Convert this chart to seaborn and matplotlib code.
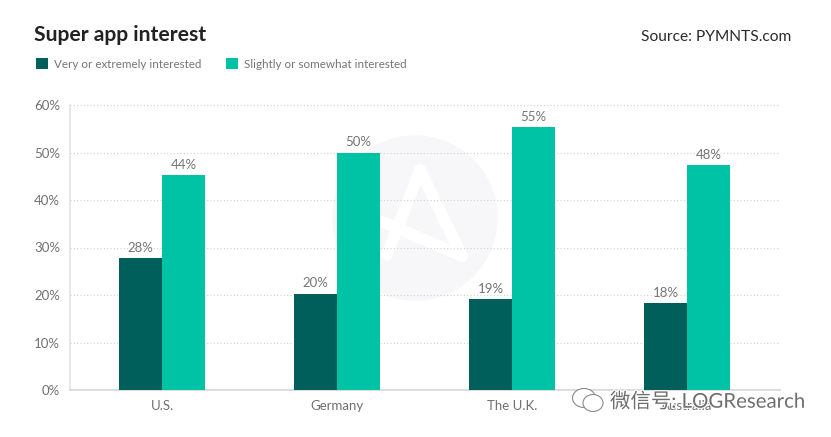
import pandas as pd
import matplotlib.pyplot as plt
import seaborn as sns
from matplotlib.patches import Circle, Ellipse
from matplotlib.lines import Line2D
from matplotlib.transforms import Affine2D
import matplotlib.patheffects as pe

countries = ['U.S.', 'Germany', 'The U.K.', 'Australia']
very_interested = [27.8, 20.3, 19.2, 18.3]
slightly_interested = [45.3, 50.0, 55.3, 47.4]
very_labels = ['28%', '20%', '19%', '18%']
slightly_labels = ['44%', '50%', '55%', '48%']
series_names = ['Very or extremely interested', 'Slightly or somewhat interested']
y_ticks = [0, 10, 20, 30, 40, 50, 60]

sns.set_theme(style='white')
plt.rcParams['font.family'] = ['Lato', 'Noto Sans CJK SC', 'DejaVu Sans']

df = pd.DataFrame({
    'Country': countries * 2,
    'Series': [series_names[0]] * 4 + [series_names[1]] * 4,
    'Share': very_interested + slightly_interested,
})

fig = plt.figure(figsize=(8.31, 4.37), dpi=100)
ax = fig.add_axes([70 / 831, (437 - 390) / 437, 710 / 831, 285 / 437])
ax.patch.set_visible(False)

# pixel coordinates, measured from the top left of the picture
px = Affine2D().scale(1, -1).translate(0, 437)

# faint logo behind the plot
fig.add_artist(Circle((415, 218), 82, transform=px, color='#f7f7f9', zorder=-5))
for x0, y0, x1, y1 in [(420, 170, 387, 255), (420, 170, 462, 256), (383, 222, 462, 256)]:
    fig.add_artist(Line2D([x0, x1], [y0, y1], transform=px, color='white', lw=8.5,
                          solid_capstyle='round', zorder=-4))

sns.barplot(data=df, x='Country', y='Share', hue='Series', ax=ax,
            palette=['#005f5b', '#00c2a4'], width=0.491, gap=0, saturation=1,
            edgecolor='none', zorder=3)

ax.set_xlim(-0.526, 3.531)
ax.set_ylim(0, 60)
ax.set_xlabel('')
ax.set_ylabel('')
ax.set_yticks(y_ticks)
ax.set_yticklabels([f'{t}%' for t in y_ticks])
ax.tick_params(axis='both', length=0, labelsize=9.5, labelcolor='#707070')
ax.tick_params(axis='y', pad=7)
ax.tick_params(axis='x', pad=7)
ax.yaxis.grid(True, linestyle=(0, (1, 2)), color='#d0d0d0', linewidth=0.8, zorder=1)
ax.set_axisbelow(True)

for side in ['top', 'right']:
    ax.spines[side].set_visible(False)
ax.spines['left'].set_color('#e4e4e4')
ax.spines['bottom'].set_color('#d8d8d8')

# value labels
for container, labels in zip(ax.containers, [very_labels, slightly_labels]):
    ax.bar_label(container, labels=labels, padding=3, fontsize=9.5, color='#757575')

# legend
handles = ax.get_legend().legend_handles
ax.legend(handles, series_names, ncol=2, frameon=False, loc='center left',
          bbox_to_anchor=(36 / 831, (437 - 64) / 437), bbox_transform=fig.transFigure,
          fontsize=8.4, labelcolor='#757575', handlelength=1.05, handleheight=1.05,
          handletextpad=0.52, columnspacing=2.05, borderaxespad=0, borderpad=0)

fig.text(34, 35, 'Super app interest', transform=px, fontsize=15.2, fontweight='bold',
         color='#222222', va='center', ha='left')
fig.text(791, 37, 'Source: PYMNTS.com', transform=px, fontsize=11.2, color='#2a2a2a',
         va='center', ha='right')

# WeChat watermark
for cx, cy, w, h in [(584, 398, 23, 19), (593, 403, 20, 17)]:
    fig.add_artist(Ellipse((cx, cy), w, h, transform=px, facecolor='white',
                           edgecolor='#8a8a8a', linewidth=0.8, zorder=4))
fig.text(610, 401, '微信号: LOGResearch', transform=px, fontsize=14.7, color='#6e6e6e',
         va='center', ha='left', zorder=5,
         path_effects=[pe.withStroke(linewidth=1.5, foreground='white')])

plt.savefig('out.png', dpi=100)
